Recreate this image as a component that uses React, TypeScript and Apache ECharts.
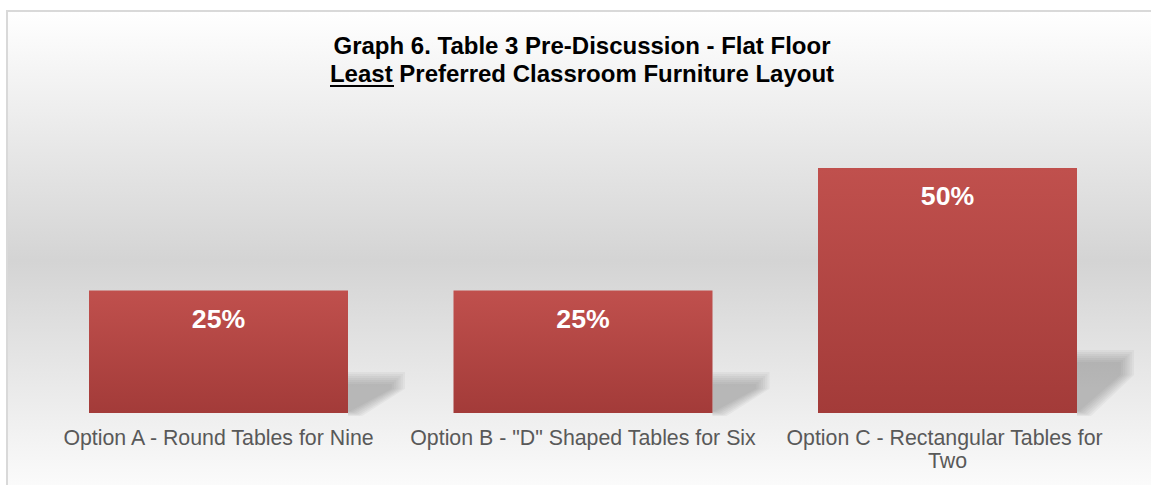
import React, { useEffect, useRef } from 'react';
import * as echarts from 'echarts';

const categories = [
  'Option A - Round Tables for Nine',
  'Option B - "D" Shaped Tables for Six',
  'Option C - Rectangular Tables for Two',
];
const values = [25, 25, 50];
const titleLine1 = 'Graph 6. Table 3 Pre-Discussion - Flat Floor';
const titleLine2 = 'Least Preferred Classroom Furniture Layout';

const FONT = '"Liberation Sans", Arial, Helvetica, sans-serif';
const BAR_WIDTH = 259;

export default function App() {
  const ref = useRef<HTMLDivElement>(null);

  useEffect(() => {
    const chart = echarts.init(ref.current as HTMLDivElement, null, { renderer: 'svg' });

    const shadowData = values.map((v, i) => [i, v]);

    chart.setOption({
      animation: false,
      backgroundColor: '#ffffff',
      graphic: [
        {
          type: 'rect',
          z: -10,
          silent: true,
          shape: { x: 7, y: 11, width: 1170, height: 500 },
          style: {
            fill: new echarts.graphic.LinearGradient(0, 0, 0, 1, [
              { offset: 0, color: '#ffffff' },
              { offset: 0.5, color: '#d4d4d4' },
              { offset: 1, color: '#ffffff' },
            ]),
            stroke: '#d9d9d9',
            lineWidth: 2,
          },
        },
        {
          type: 'text',
          x: 582,
          y: 45,
          style: {
            text: titleLine1,
            fill: '#000000',
            font: `bold 24px ${FONT}`,
            align: 'center',
            verticalAlign: 'middle',
            textAlign: 'center',
            textVerticalAlign: 'middle',
          },
        },
        {
          type: 'text',
          x: 582,
          y: 73.5,
          style: {
            text: titleLine2,
            fill: '#000000',
            font: `bold 24px ${FONT}`,
            align: 'center',
            verticalAlign: 'middle',
            textAlign: 'center',
            textVerticalAlign: 'middle',
          },
        },
        {
          type: 'rect',
          shape: { x: 330, y: 85, width: 64, height: 2 },
          style: { fill: '#000000' },
        },
      ],
      grid: { left: 36.25, right: 21.25, top: 168, bottom: 72 },
      xAxis: {
        type: 'category',
        data: categories,
        axisLine: { show: false },
        axisTick: { show: false },
        splitLine: { show: false },
        axisLabel: {
          interval: 0,
          color: '#595959',
          fontFamily: FONT,
          fontSize: 21.33,
          lineHeight: 23.5,
          margin: 13,
          width: 364,
          overflow: 'break',
        },
      },
      yAxis: {
        type: 'value',
        min: 0,
        max: 50,
        show: false,
        splitLine: { show: false },
      },
      series: [
        {
          type: 'custom',
          z: 1,
          silent: true,
          data: shadowData,
          encode: { x: 0, y: 1 },
          renderItem: (params: any, api: any) => {
            const idx = api.value(0);
            const v = api.value(1);
            const top = api.coord([idx, v]);
            const base = api.coord([idx, 0]);
            const R = base[0] + BAR_WIDTH / 2;
            const B = base[1];
            const H = B - top[1];
            const sh = 0.18 * H + 17;
            const T = B - sh;
            const children: any[] = [];
            const steps = 7;
            for (let k = 0; k < steps; k++) {
              const inset = k * 2;
              const rx = 57 - inset * 1.1;
              children.push({
                type: 'polygon',
                shape: {
                  points: [
                    [R, T - 2 + inset],
                    [R + rx, T - 2 + inset],
                    [R + rx, T + sh * 0.38],
                    [R + 14 - inset, B + 3 - inset * 0.4],
                    [R, B + 3 - inset * 0.4],
                  ],
                },
                style: { fill: 'rgba(100,100,100,0.065)' },
              });
            }
            return { type: 'group', children };
          },
        },
        {
          type: 'bar',
          z: 3,
          data: values,
          barWidth: BAR_WIDTH,
          itemStyle: {
            color: new echarts.graphic.LinearGradient(0, 0, 0, 1, [
              { offset: 0, color: '#c0504d' },
              { offset: 1, color: '#a33b39' },
            ]),
          },
          label: {
            show: true,
            position: 'insideTop',
            distance: 14.5,
            formatter: '{c}%',
            color: '#ffffff',
            fontWeight: 'bold',
            fontFamily: FONT,
            fontSize: 26.67,
            lineHeight: 27,
          },
        },
      ],
    });

    return () => {
      chart.dispose();
    };
  }, []);

  return (
    <div
      ref={ref}
      style={{ position: 'fixed', left: 0, top: 0, width: 1151, height: 485 }}
    />
  );
}
